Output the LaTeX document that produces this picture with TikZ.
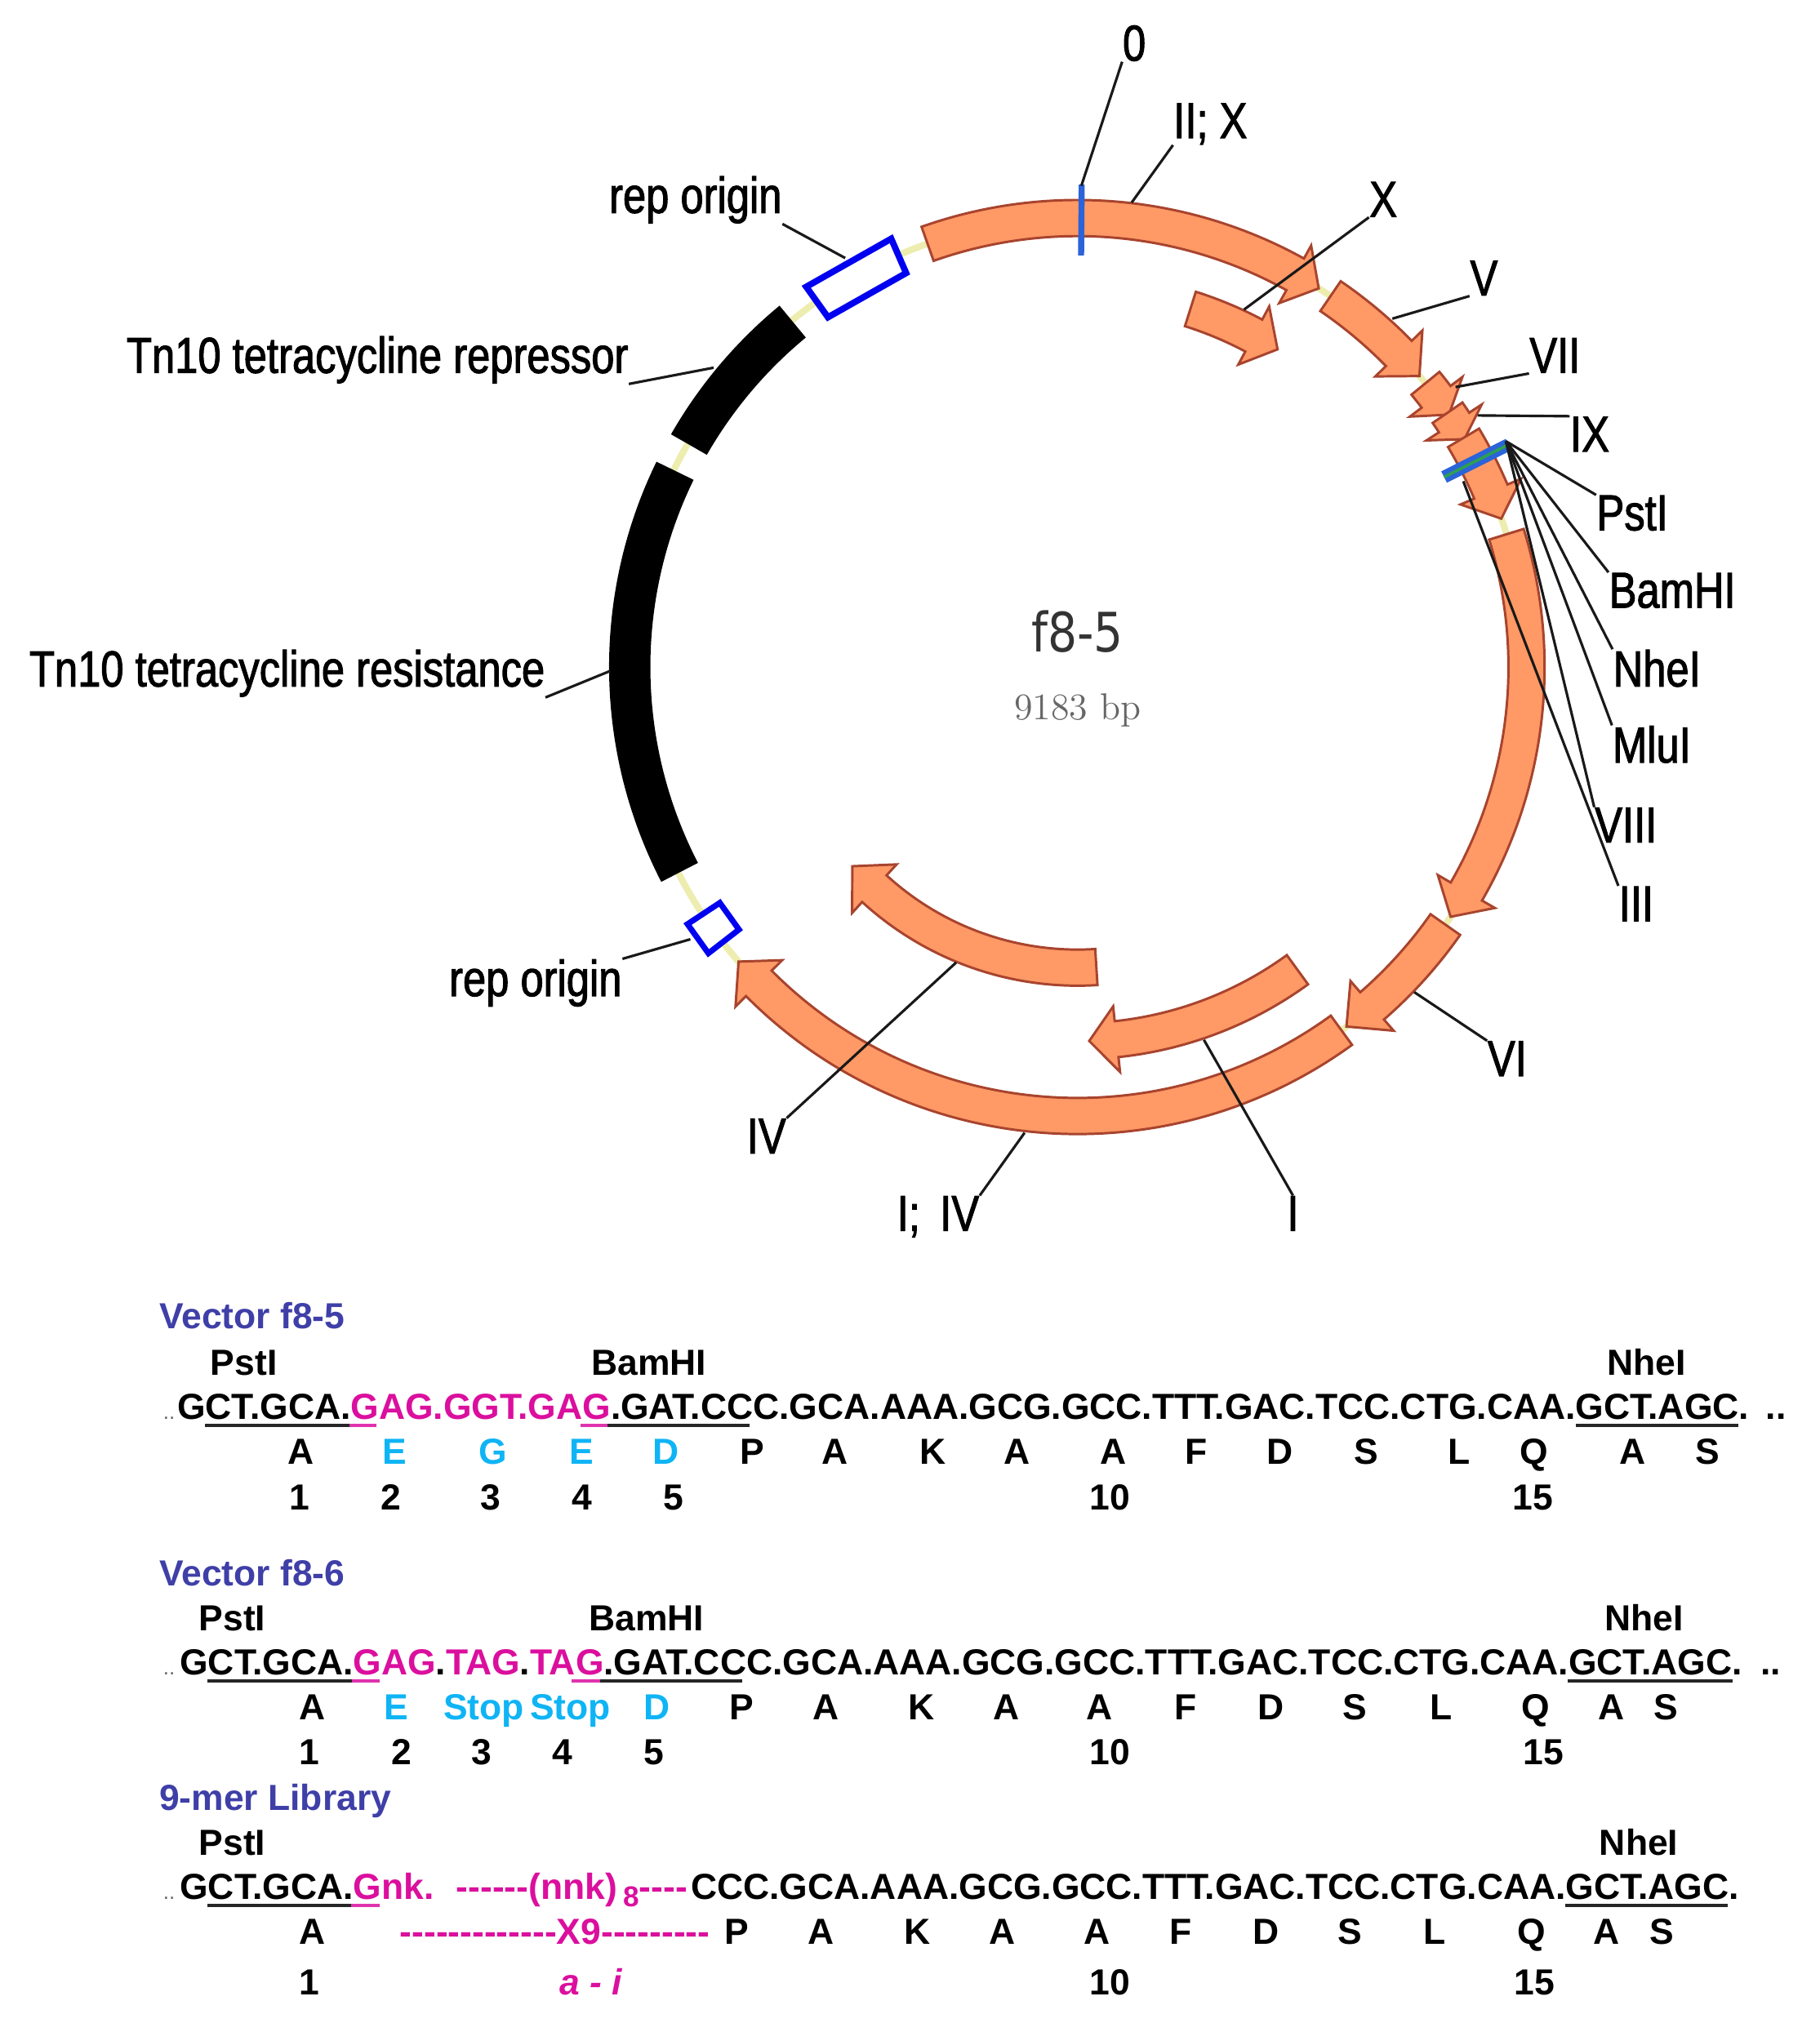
\documentclass[tikz,border=0pt]{standalone}
\usepackage{fontspec}
\usepackage{tikz}
\usetikzlibrary{arrows.meta,positioning}
\usepackage{xcolor}
\newfontfamily\labelfamily[FakeStretch=0.82,FakeBold=1.6]{Liberation Sans}
\newfontfamily\seqfamily{Liberation Sans}
\newfontfamily\titlefamily[FakeStretch=0.85]{DejaVu Sans}
\definecolor{genefill}{HTML}{FF9966}
\definecolor{genedraw}{HTML}{A8442E}
\definecolor{ringyellow}{HTML}{EDEDB0}
\definecolor{siteblue}{HTML}{2B63D8}
\definecolor{sitegreen}{HTML}{2E9E55}
\definecolor{oriblue}{HTML}{0000F0}
\definecolor{headblue}{HTML}{3F3FA8}
\definecolor{seqmagenta}{HTML}{DB0F9E}
\definecolor{seqcyan}{HTML}{0FB4F5}
\tikzset{
	genearrow/.style={draw=genedraw,fill=genefill,line width=0.8pt,line join=miter},
	blackbar/.style={fill=black},
	oribox/.style={draw=oriblue,fill=white,line width=2.1pt},
	leader/.style={draw=black!90,line width=0.85pt},
	genelabel/.style={font=\labelfamily\fontsize{16.7}{18}\selectfont,anchor=base,inner sep=0pt},
	seqtext/.style={font=\seqfamily\bfseries\fontsize{12}{14}\selectfont,anchor=base,inner sep=0pt},
	seqline/.style={seqtext,anchor=base west},
	seqrule/.style={line width=1.1pt,black!85},
	magrule/.style={line width=1.1pt,seqmagenta!85}
}
% mid radius, tail angle, neck angle, tip angle
\newcommand{\genearc}[4]{
	\draw[genearrow] (#2:#1+14) arc[start angle=#2,end angle=#3,radius=#1+14]
		-- (#3:#1+25.5) -- (#4:#1) -- (#3:#1-25.5) -- (#3:#1-14)
		arc[start angle=#3,end angle=#2,radius=#1-14] -- cycle;
}
\begin{document}
\begin{tikzpicture}[x=0.015cm,y=-0.015cm]
	\useasboundingbox (0,0) rectangle (1410,1568);

	% plasmid ring
	\begin{scope}[shift={(835,517)},y=0.015cm]
		\draw[ringyellow,line width=2.2pt] (0,0) circle[radius=348];
		\fill[blackbar] (129.5:363) arc[start angle=129.5,end angle=150.2,radius=363]
			-- (150.2:331) arc[start angle=150.2,end angle=129.5,radius=331] -- cycle;
		\fill[blackbar] (154:363) arc[start angle=154,end angle=207.3,radius=363]
			-- (207.3:331) arc[start angle=207.3,end angle=154,radius=331] -- cycle;
		\draw[oribox] (113.5:362) -- (125.5:362) -- (125.5:333) -- (113.5:333) -- cycle;
		\draw[oribox,line width=1.9pt] (-146.6:362) -- (-142.2:362) -- (-142.2:332) -- (-146.6:332) -- cycle;
		\genearc{348}{109.5}{61}{57.5}
		\genearc{291}{72.5}{62}{57.8}
		\genearc{348}{55.7}{44.3}{40.4}
		\genearc{348}{39.2}{37}{34.2}
		\genearc{348}{34.5}{33}{30.5}
		\genearc{348}{30.7}{23}{19.3}
		\genearc{348}{17.2}{-30}{-33.8}
		\genearc{348}{-35}{-49}{-53.2}
		\genearc{348}{-54}{-135.2}{-139}
		\genearc{290}{-54}{-84}{-88.2}
		\genearc{233}{-86.4}{-132.5}{-138.5}
		\draw[siteblue,line width=2pt] (89.5:374) -- (89.5:319);
		\draw[siteblue,line width=4.2pt] (27.3:376) -- (27.4:320);
		\draw[sitegreen,line width=1pt] (27.3:376) -- (27.4:320);
	\end{scope}

	% names in the middle
	\node[font=\titlefamily\fontsize{18}{20}\selectfont,text=black!80,anchor=base,inner sep=0pt] (title) at (835,505) {f8-5};
	\node[font=\fontsize{12.4}{14}\selectfont,text=black!60,anchor=base,inner sep=0pt] (size) at (835,558) {\oldstylenums{9183} bp};

	% labels round the ring
	\begin{scope}[every node/.style={genelabel}]
		\node (lzero) at (879,47) {0};
		\node (ltwox) at (938,107) {II; X};
		\node (lx) at (1072,168) {X};
		\node (lv) at (1150,229) {V};
		\node (lvii) at (1205,289) {VII};
		\node (lix) at (1232,350) {IX};
		\node (lpst) at (1265,411) {PstI};
		\node (lbam) at (1296,471) {BamHI};
		\node (lnhe) at (1284,532) {NheI};
		\node (lmlu) at (1280,591) {MluI};
		\node (lviii) at (1260,653) {VIII};
		\node (liii) at (1268,714) {III};
		\node (lvi) at (1168,834) {VI};
		\node (li) at (1002,954) {I};
		\node (loneiv) at (727,954) {I;\, IV};
		\node (liv) at (594,894) {IV};
		\node (lorib) at (415,772) {rep origin};
		\node (lresist) at (222.5,532) {Tn10 tetracycline resistance};
		\node (lrepress) at (292.5,289) {Tn10 tetracycline repressor};
		\node (lorit) at (539,165) {rep origin};
	\end{scope}

	\coordinate (tzero) at (838,144);
	\coordinate (ttwox) at (877,157);
	\coordinate (tx) at (964,240);
	\coordinate (tv) at (1079,247);
	\coordinate (tvii) at (1128,300);
	\coordinate (tix) at (1145,322);
	\coordinate (hub) at (1167,342);
	\coordinate (tiii) at (1134,373);
	\coordinate (tvi) at (1096,769);
	\coordinate (ti) at (933,806);
	\coordinate (toneiv) at (794,878);
	\coordinate (tiv) at (741,746);
	\coordinate (torib) at (535,728);
	\coordinate (tresist) at (473,520);
	\coordinate (trepress) at (553,285);
	\coordinate (torit) at (655,200);

	\begin{scope}[every path/.style={leader}]
		\draw (lzero.south west) -- (tzero);
		\draw (ltwox.south west) -- (ttwox);
		\draw (lx.south west) -- (tx);
		\draw (lv.south west) -- (tv);
		\draw (lvii.south west) -- (tvii);
		\draw (lix.north west) -- (tix);
		\draw (lpst.north west) -- (hub);
		\draw (lbam.north west) -- (hub);
		\draw (lnhe.north west) -- (hub);
		\draw (lmlu.north west) -- (hub);
		\draw (lviii.north west) -- (hub);
		\draw (liii.north west) -- (tiii);
		\draw (lvi.north west) -- (tvi);
		\draw (li.north) -- (ti);
		\draw (loneiv.north east) -- (toneiv);
		\draw (liv.north east) -- (tiv);
		\draw (lorib.north east) -- (torib);
		\draw (lresist.south east) -- (tresist);
		\draw (lrepress.south east) -- (trepress);
		\draw (lorit.south east) -- (torit);
	\end{scope}

	% Vector f8-5
	\node[seqline,text=headblue] (heada) at (123,1030) {Vector f8-5};
	\node[seqtext] (psta) at (189,1066) {PstI};
	\node[seqtext] (bama) at (503,1066) {BamHI};
	\node[seqtext] (nhea) at (1276,1066) {NheI};
	\node[seqline,font=\seqfamily\fontsize{7}{8}\selectfont,text=black!60] (dotsa) at (126,1100) {..};
	\node[seqline] (seqa) at (137,1100) {GCT.GCA.\textcolor{seqmagenta}{GAG.GGT.GAG}.GAT.CCC.GCA.AAA.GCG.GCC.TTT.GAC.TCC.CTG.CAA.GCT.AGC.};
	\node[seqline] (enda) at (1368,1100) {..};
	\draw[seqrule] (159,1105) -- (271,1105);
	\draw[magrule] (271,1105) -- (292,1105);
	\draw[magrule] (450,1105) -- (471,1105);
	\draw[seqrule] (471,1105) -- (581,1105);
	\draw[seqrule] (1221,1105) -- (1347,1105);
	\foreach \x/\t [count=\i] in {233/A,583/P,647/A,723/K,788/A,863/A,927/F,992/D,1059/S,1131/L,1189/Q,1265/A,1323/S}
		\node[seqtext] (aaa\i) at (\x,1135) {\t};
	\foreach \x/\t [count=\i] in {306/E,382/G,451/E,516/D}
		\node[seqtext,text=seqcyan] (cya\i) at (\x,1135) {\t};
	\foreach \x/\t [count=\i] in {232/1,303/2,380/3,451/4,522/5,860/10,1188/15}
		\node[seqtext] (numa\i) at (\x,1170) {\t};

	% Vector f8-6
	\node[seqline,text=headblue] (headb) at (123,1229) {Vector f8-6};
	\node[seqtext] (pstb) at (180,1264) {PstI};
	\node[seqtext] (bamb) at (501,1264) {BamHI};
	\node[seqtext] (nheb) at (1274,1264) {NheI};
	\node[seqline,font=\seqfamily\fontsize{7}{8}\selectfont,text=black!60] (dotsb) at (126,1298) {..};
	\node[seqline] (seqb) at (139,1298) {GCT.GCA.\textcolor{seqmagenta}{GAG}.\textcolor{seqmagenta}{TAG}.\textcolor{seqmagenta}{TAG}.GAT.CCC.GCA.AAA.GCG.GCC.TTT.GAC.TCC.CTG.CAA.GCT.AGC.};
	\node[seqline] (endb) at (1364,1298) {..};
	\draw[seqrule] (161,1303) -- (273,1303);
	\draw[magrule] (273,1303) -- (294,1303);
	\draw[magrule] (443,1303) -- (465,1303);
	\draw[seqrule] (465,1303) -- (575,1303);
	\draw[seqrule] (1215,1303) -- (1343,1303);
	\foreach \x/\t [count=\i] in {242/A,575/P,640/A,714/K,780/A,852/A,919/F,985/D,1050/S,1117/L,1190/Q,1249/A,1291/S}
		\node[seqtext] (aab\i) at (\x,1333) {\t};
	\foreach \x/\t [count=\i] in {307/E,375/Stop,442/Stop,509/D}
		\node[seqtext,text=seqcyan] (cyb\i) at (\x,1333) {\t};
	\foreach \x/\t [count=\i] in {240/1,311/2,373/3,436/4,507/5,860/10,1196/15}
		\node[seqtext] (numb\i) at (\x,1368) {\t};

	% 9-mer Library
	\node[seqline,text=headblue] (headc) at (123,1403) {9-mer Library};
	\node[seqtext] (pstc) at (180,1438) {PstI};
	\node[seqtext] (nhec) at (1270,1438) {NheI};
	\node[seqline,font=\seqfamily\fontsize{7}{8}\selectfont,text=black!60] (dotsc) at (126,1472) {..};
	\node[seqline] (seqc) at (139,1472) {GCT.GCA.\textcolor{seqmagenta}{Gnk.}};
	\node[seqline,text=seqmagenta] (nnk) at (353,1472) {------(nnk)\,\raisebox{-2.5pt}{\fontsize{9.5}{10}\selectfont 8}----};
	\node[seqline] (seqd) at (535,1472) {CCC.GCA.AAA.GCG.GCC.TTT.GAC.TCC.CTG.CAA.GCT.AGC.};
	\draw[seqrule] (161,1477) -- (272,1477);
	\draw[magrule] (272,1477) -- (294,1477);
	\draw[seqrule] (1213,1477) -- (1339,1477);
	\foreach \x/\t [count=\i] in {242/A,571/P,636/A,711/K,777/A,850/A,915/F,981/D,1046/S,1112/L,1187/Q,1245/A,1288/S}
		\node[seqtext] (aac\i) at (\x,1507) {\t};
	\node[seqtext,text=seqmagenta] (xnine) at (430,1507) {-------------X9---------};
	\foreach \x/\t [count=\i] in {240/1,860/10,1189/15}
		\node[seqtext] (numc\i) at (\x,1546) {\t};
	\node[seqtext,text=seqmagenta,font=\seqfamily\bfseries\itshape\fontsize{12}{14}\selectfont] (atoi) at (458,1546) {a - i};
\end{tikzpicture}
\end{document}
